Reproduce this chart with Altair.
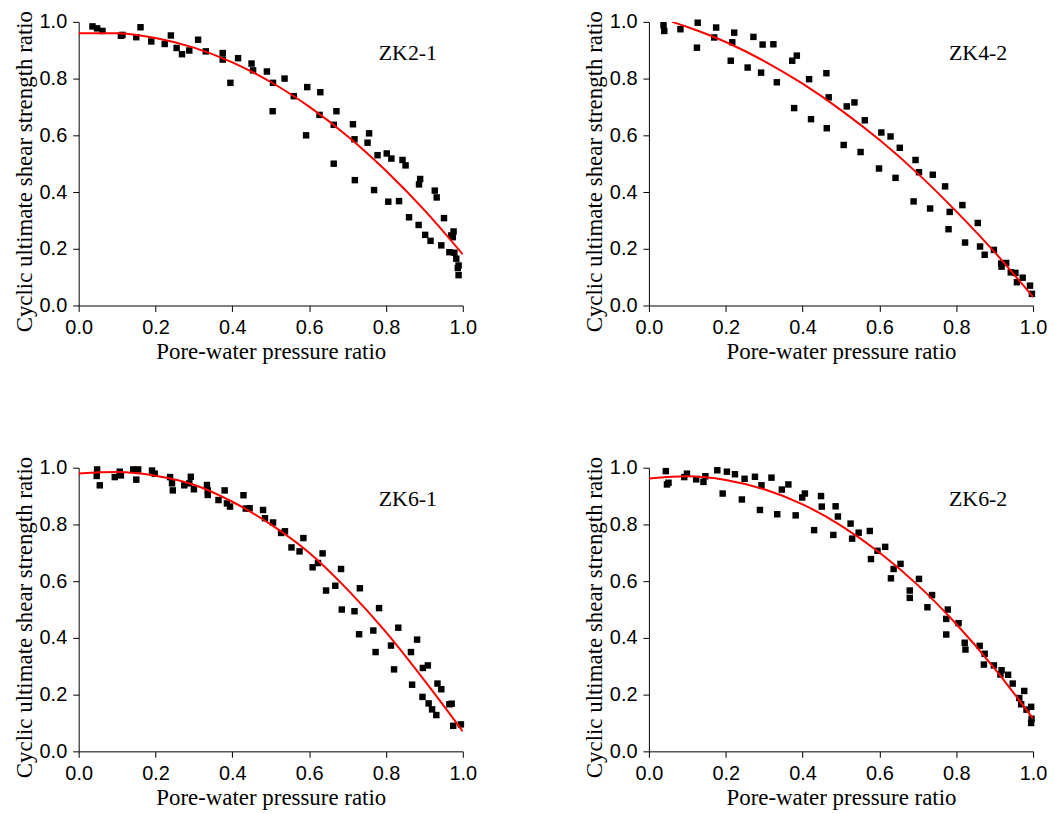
import altair as alt
import pandas as pd

# ---------------- data ----------------
zk21_x = [0.036, 0.048, 0.062, 0.110, 0.114, 0.150, 0.161, 0.189, 0.224, 0.240,
          0.255, 0.269, 0.288, 0.311, 0.331, 0.375, 0.375, 0.395, 0.415, 0.450,
          0.454, 0.490, 0.506, 0.505, 0.536, 0.560, 0.595, 0.592, 0.629, 0.627,
          0.664, 0.671, 0.664, 0.714, 0.718, 0.719, 0.756, 0.752, 0.769, 0.778,
          0.802, 0.814, 0.806, 0.834, 0.843, 0.851, 0.860, 0.885, 0.889, 0.886,
          0.902, 0.916, 0.927, 0.932, 0.944, 0.951, 0.965, 0.970, 0.976, 0.974,
          0.978, 0.983, 0.987, 0.989, 0.989]
zk21_y = [0.984, 0.977, 0.968, 0.951, 0.954, 0.946, 0.981, 0.931, 0.922, 0.952,
          0.908, 0.886, 0.899, 0.937, 0.896, 0.890, 0.867, 0.785, 0.872, 0.853,
          0.829, 0.825, 0.785, 0.685, 0.800, 0.738, 0.770, 0.600, 0.752, 0.672,
          0.637, 0.685, 0.500, 0.639, 0.586, 0.442, 0.607, 0.574, 0.407, 0.530,
          0.536, 0.518, 0.366, 0.368, 0.513, 0.494, 0.311, 0.284, 0.446, 0.427,
          0.249, 0.228, 0.405, 0.381, 0.212, 0.308, 0.188, 0.247, 0.261, 0.241,
          0.186, 0.165, 0.132, 0.107, 0.141]

zk42_x = [0.038, 0.040, 0.082, 0.127, 0.125, 0.175, 0.170, 0.222, 0.217, 0.213,
          0.272, 0.257, 0.296, 0.292, 0.324, 0.333, 0.373, 0.385, 0.378, 0.417,
          0.422, 0.462, 0.468, 0.463, 0.507, 0.515, 0.535, 0.551, 0.562, 0.599,
          0.605, 0.629, 0.642, 0.653, 0.689, 0.694, 0.703, 0.732, 0.739, 0.771,
          0.780, 0.783, 0.816, 0.823, 0.856, 0.862, 0.874, 0.898, 0.917, 0.918,
          0.930, 0.942, 0.954, 0.958, 0.973, 0.992, 0.997]
zk42_y = [0.988, 0.968, 0.974, 0.997, 0.909, 0.980, 0.945, 0.962, 0.928, 0.863,
          0.947, 0.839, 0.920, 0.821, 0.921, 0.787, 0.863, 0.881, 0.696, 0.798,
          0.657, 0.819, 0.734, 0.625, 0.566, 0.702, 0.716, 0.541, 0.653, 0.483,
          0.610, 0.596, 0.450, 0.556, 0.367, 0.513, 0.470, 0.342, 0.461, 0.420,
          0.269, 0.330, 0.354, 0.222, 0.291, 0.208, 0.179, 0.196, 0.148, 0.137,
          0.150, 0.117, 0.115, 0.082, 0.098, 0.070, 0.041]

zk61_x = [0.048, 0.047, 0.055, 0.094, 0.107, 0.110, 0.142, 0.155, 0.150, 0.191,
          0.198, 0.238, 0.243, 0.245, 0.275, 0.288, 0.292, 0.300, 0.334, 0.336,
          0.336, 0.364, 0.380, 0.386, 0.394, 0.429, 0.435, 0.445, 0.480, 0.485,
          0.506, 0.527, 0.537, 0.554, 0.575, 0.585, 0.609, 0.623, 0.635, 0.644,
          0.668, 0.683, 0.685, 0.718, 0.732, 0.730, 0.767, 0.773, 0.782, 0.813,
          0.832, 0.821, 0.865, 0.881, 0.868, 0.896, 0.909, 0.895, 0.911, 0.920,
          0.934, 0.944, 0.931, 0.965, 0.971, 0.975, 0.995]
zk61_y = [0.994, 0.971, 0.938, 0.967, 0.986, 0.973, 0.994, 0.994, 0.958, 0.990,
          0.979, 0.967, 0.945, 0.920, 0.938, 0.945, 0.968, 0.924, 0.939, 0.904,
          0.920, 0.886, 0.920, 0.874, 0.863, 0.903, 0.856, 0.857, 0.851, 0.822,
          0.807, 0.770, 0.776, 0.719, 0.705, 0.752, 0.649, 0.664, 0.698, 0.567,
          0.584, 0.643, 0.500, 0.494, 0.575, 0.413, 0.426, 0.350, 0.505, 0.373,
          0.436, 0.289, 0.350, 0.394, 0.235, 0.294, 0.303, 0.192, 0.169, 0.148,
          0.239, 0.219, 0.128, 0.166, 0.168, 0.090, 0.095]

zk62_x = [0.044, 0.047, 0.051, 0.092, 0.099, 0.123, 0.142, 0.147, 0.178, 0.192,
          0.203, 0.224, 0.242, 0.249, 0.276, 0.293, 0.289, 0.319, 0.334, 0.346,
          0.363, 0.382, 0.399, 0.406, 0.430, 0.448, 0.450, 0.480, 0.486, 0.492,
          0.525, 0.529, 0.546, 0.575, 0.578, 0.595, 0.615, 0.630, 0.637, 0.655,
          0.679, 0.679, 0.703, 0.725, 0.737, 0.774, 0.774, 0.778, 0.806, 0.822,
          0.824, 0.861, 0.874, 0.872, 0.898, 0.918, 0.915, 0.935, 0.947, 0.964,
          0.969, 0.977, 0.983, 0.995, 0.995, 0.996]
zk62_y = [0.988, 0.941, 0.947, 0.967, 0.979, 0.959, 0.950, 0.970, 0.991, 0.909,
          0.986, 0.977, 0.888, 0.961, 0.968, 0.938, 0.851, 0.965, 0.836, 0.923,
          0.941, 0.832, 0.895, 0.909, 0.780, 0.900, 0.863, 0.763, 0.864, 0.828,
          0.803, 0.750, 0.771, 0.777, 0.678, 0.707, 0.721, 0.610, 0.643, 0.661,
          0.567, 0.541, 0.608, 0.508, 0.551, 0.467, 0.412, 0.500, 0.452, 0.383,
          0.359, 0.372, 0.344, 0.306, 0.303, 0.286, 0.271, 0.270, 0.239, 0.188,
          0.166, 0.213, 0.147, 0.157, 0.100, 0.115]

# fitted red curves, read at sample positions
fit_x = [0.0, 0.1, 0.2, 0.3, 0.4, 0.5, 0.6, 0.7, 0.8, 0.9, 1.0]
zk21_fit = [0.960, 0.960, 0.943, 0.909, 0.857, 0.788, 0.701, 0.597, 0.475, 0.336, 0.180]
zk42_fit_x = [0.06, 0.1, 0.2, 0.3, 0.4, 0.5, 0.6, 0.7, 0.8, 0.9, 1.0]
zk42_fit = [1.000, 0.982, 0.929, 0.862, 0.782, 0.689, 0.584, 0.465, 0.332, 0.188, 0.030]
zk61_fit = [0.980, 0.985, 0.972, 0.940, 0.880, 0.800, 0.700, 0.570, 0.420, 0.250, 0.070]
zk62_fit = [0.962, 0.970, 0.957, 0.924, 0.871, 0.796, 0.701, 0.586, 0.449, 0.292, 0.115]

tick_values = [0.0, 0.1, 0.2, 0.3, 0.4, 0.5, 0.6, 0.7, 0.8, 0.9, 1.0]

LABEL_EXPR = "round(datum.value*10) % 2 == 0 ? format(datum.value, '.1f') : ''"
TICK_SIZE = {"condition": {"test": "round(datum.value*10) % 2 == 1", "value": 3}, "value": 6}


def panel(px, py, cx, cy, label):
    pts = pd.DataFrame({"x": px, "y": py})
    fit = pd.DataFrame({"x": cx, "y": cy})
    lab = pd.DataFrame({"label": [label]})
    xs = alt.Scale(domain=[0, 1], nice=False, zero=False)
    ys = alt.Scale(domain=[0, 1], nice=False, zero=False)
    xaxis = alt.Axis(title="Pore-water pressure ratio", values=tick_values,
                     labelExpr=LABEL_EXPR, tickSize=TICK_SIZE, labelPadding=6,
                     titlePadding=3, labelOverlap=False, labelFlush=False, grid=False)
    yaxis = alt.Axis(title="Cyclic ultimate shear strength ratio", values=tick_values,
                     labelExpr=LABEL_EXPR, tickSize=TICK_SIZE, labelPadding=6,
                     titlePadding=3, labelOverlap=False, labelFlush=False, grid=False,
                     titleY=150)
    points = alt.Chart(pts).mark_square(size=42, color="black", opacity=1).encode(
        x=alt.X("x:Q", scale=xs, axis=xaxis),
        y=alt.Y("y:Q", scale=ys, axis=yaxis),
    )
    line = alt.Chart(fit).mark_line(color="#ff0000", strokeWidth=2,
                                    interpolate="monotone", clip=True).encode(
        x="x:Q", y="y:Q")
    text = alt.Chart(lab).mark_text(font="Liberation Serif", fontSize=22,
                                    align="center", baseline="alphabetic",
                                    color="black").encode(
        x=alt.datum(0.857), y=alt.datum(0.864), text="label:N")
    return alt.layer(points, line, text).properties(width=386, height=285)


chart = alt.concat(
    panel(zk21_x, zk21_y, fit_x, zk21_fit, "ZK2-1"),
    panel(zk42_x, zk42_y, zk42_fit_x, zk42_fit, "ZK4-2"),
    panel(zk61_x, zk61_y, fit_x, zk61_fit, "ZK6-1"),
    panel(zk62_x, zk62_y, fit_x, zk62_fit, "ZK6-2"),
    columns=2,
    spacing={"row": 163, "column": 187},
    bounds="flush",
).properties(
    padding={"left": 5, "top": 0, "right": 0, "bottom": 0},
    background="white",
).configure_view(stroke=None).configure_axis(
    domainColor="black", tickColor="black", domainWidth=1, tickWidth=1,
    labelFont="Liberation Sans", labelFontSize=20, labelColor="black",
    titleFont="Liberation Serif", titleFontSize=23, titleFontWeight="normal",
    titleColor="black",
)

chart.save("out.html", embed_options={"renderer": "svg", "actions": False})
